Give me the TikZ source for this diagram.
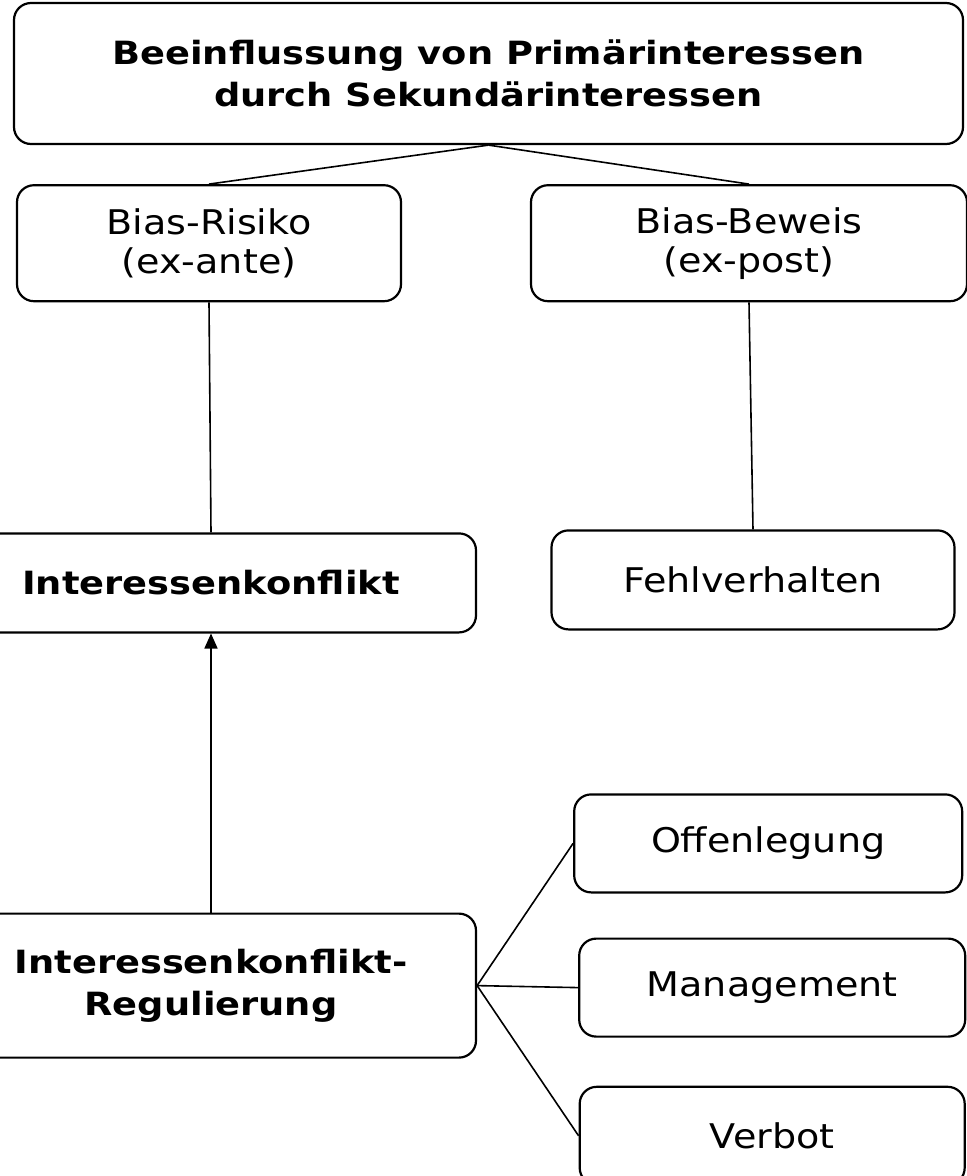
\documentclass[tikz,border=0pt]{standalone}
\usepackage{fontspec}
\newfontfamily\normfont{DejaVu Sans}[FakeStretch=1.12]
\newfontfamily\strongfont{DejaVu Sans}[FakeStretch=1.15]
\usetikzlibrary{positioning, arrows.meta}

\begin{document}
\begin{tikzpicture}[
    x=1pt, y=-1pt,
    mynode/.style={rectangle, draw, line width=2.2pt, rounded corners=17pt, align=center, inner sep=0pt,
        font=\normfont\fontsize{34}{39}\selectfont},
    mybold/.style={mynode, font=\strongfont\bfseries\fontsize{32}{42}\selectfont},
    myline/.style={line width=1.6pt},
    myarrow/.style={myline, -{Triangle[length=15pt, width=13pt]}}
]

    \useasboundingbox (0,0) rectangle (967,1176);

    \node[mybold, minimum width=949pt, minimum height=141pt] (beeinflussung) at (488.5,73.5) {Beeinflussung von Primärinteressen\\durch Sekundärinteressen};
    \node[mynode, minimum width=384pt, minimum height=116pt, below right=39pt and 3pt of beeinflussung.south west] (risiko) {Bias-Risiko\\(ex-ante)};
    \node[mynode, minimum width=436pt, minimum height=116pt, below left=39pt and 0pt of beeinflussung.south east, xshift=4pt] (beweis) {Bias-Beweis\\(ex-post)};

    \draw[myline] (beeinflussung.south) -- (risiko.north);
    \draw[myline] (beeinflussung.south) -- (beweis.north);

    \node[mybold, minimum width=530pt, minimum height=99pt, below=230pt of risiko, xshift=2pt] (konflikt) {Interessenkonflikt};
    \node[mynode, minimum width=403pt, minimum height=99pt, below=227pt of beweis, xshift=4pt] (fehlverhalten) {Fehlverhalten};

    \draw[myline] (risiko.south) -- (konflikt.north);
    \draw[myline] (beweis.south) -- (fehlverhalten.north);

    \node[mybold, minimum width=530pt, minimum height=144pt, below=279pt of konflikt] (regulierung) {Interessenkonflikt-\\Regulierung};

    \draw[myarrow] (regulierung.north) -- (konflikt.south);

    \node[mynode, minimum width=386pt, minimum height=98pt, right=101pt of regulierung, yshift=-2pt] (management) {Management};
    \node[mynode, minimum width=388pt, minimum height=98pt, above=44pt of management, xshift=-4pt] (offenlegung) {Offenlegung};
    \node[mynode, minimum width=385pt, minimum height=98pt, below=48pt of management] (verbot) {Verbot};

    \draw[myline] (regulierung.east) -- (offenlegung.west);
    \draw[myline] (regulierung.east) -- (management.west);
    \draw[myline] (regulierung.east) -- (verbot.west);

\end{tikzpicture}
\end{document}
